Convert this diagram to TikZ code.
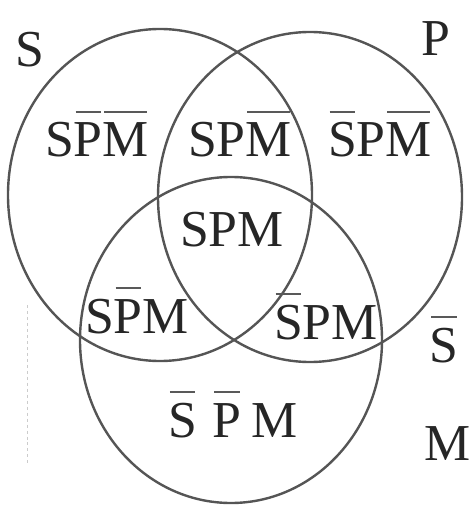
\documentclass[tikz,border=0pt]{standalone}
\usepackage{fontspec}
\setmainfont{Liberation Serif}
\definecolor{venngray}{RGB}{85,85,85}
\newcommand{\nb}[1]{\setbox0=\hbox{#1}%
  \rlap{\hspace{0.03em}\textcolor{black!65}{\rule[0.85em]{\dimexpr\wd0-0.06em\relax}{0.04em}}}\box0}

\begin{document}
\begin{tikzpicture}[x=1bp,y=-1bp,
    setline/.style={venngray,line width=2.4bp},
    lbl/.style={anchor=base,inner sep=0pt,text=black!85,
                font=\fontsize{52}{60}\selectfont}]
  \useasboundingbox (0,0) rectangle (470,506);

  %% the three sets
  \draw[setline] (160,195) ellipse [x radius=152, y radius=166];
  \draw[setline] (310,197) ellipse [x radius=152, y radius=165];
  \draw[setline] (231,340) ellipse [x radius=151, y radius=163];

  %% faint mark on the left
  \draw[black!20,dashed,line width=1bp] (27,305) -- (27,465);

  %% set names
  \node[lbl] (nameS)  at (30,67)   {S};
  \node[lbl] (nameP)  at (436,56)  {P};
  \node[lbl] (nameSn) at (444,362) {\nb{S}};
  \node[lbl] (nameM)  at (448,460) {M};

  %% regions
  \node[lbl] (rSpm)  at (97,157)  {S\nb{P}\nb{M}};
  \node[lbl] (rSPm)  at (240,157) {SP\nb{M}};
  \node[lbl] (rsPm)  at (380,157) {\nb{S}P\nb{M}};
  \node[lbl] (rSPM)  at (232,246) {SPM};
  \node[lbl] (rSpM)  at (137,333) {S\nb{P}M};
  \node[lbl] (rsPM)  at (326,339) {\nb{S}PM};
  \node[lbl] (rspM)  at (233,437) {\nb{S}\hspace{0.3em}\nb{P}\hspace{0.2em}M};
\end{tikzpicture}
\end{document}
